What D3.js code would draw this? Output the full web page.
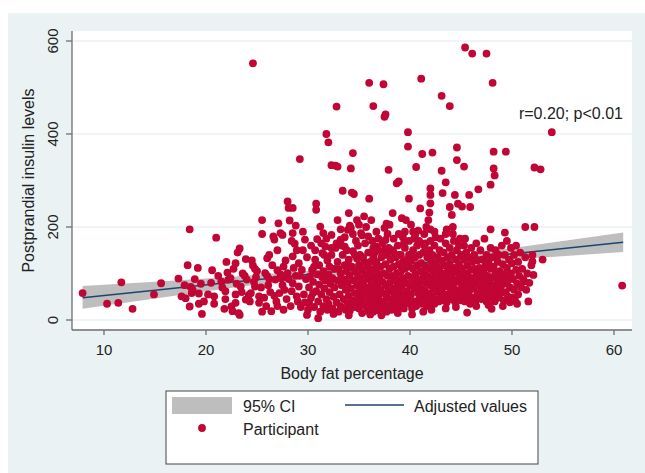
<!DOCTYPE html>
<html>
<head>
<meta charset="utf-8">
<script src="https://cdn.jsdelivr.net/npm/d3@7"></script>
<style>
  body { margin: 0; background: #fff; }
  svg { display: block; font-family: "Liberation Sans", Arial, sans-serif; }
</style>
</head>
<body>
<div id="chart"></div>
<script>
// Axis ticks
const xTicks = [10, 20, 30, 40, 50, 60];
const yTicks = [0, 200, 400, 600];

// Fitted line and 95% CI band
const fitFat = [7.9, 15, 22, 30, 38, 45, 52, 60.9];
const fitValue = [48, 64, 80, 98, 116, 131, 147, 167];
const ciLower = [24, 46, 68, 90, 109, 123, 133, 146];
const ciUpper = [73, 82, 92, 106, 123, 140, 161, 188];

// Participants [body fat %, insulin], estimated from the scatter
const under30 = [
  [7.9,58],[10.3,35],[11.4,37],[11.7,81],[12.8,24],[14.9,55],[15.6,79],[17.3,89],[17.6,51],[18.0,47],
  [18.2,118],[18.4,195],[18.4,29],[18.5,71],[18.6,58],[18.7,64],[19.2,112],[19.3,35],[19.5,78],[19.6,13],
  [19.3,57],[20.6,107],[20.8,51],[20.8,35],[21.0,177],[21.5,83],[21.8,24],[21.9,62],[22.0,125],[22.1,102],
  [22.2,87],[22.5,29],[22.6,19],[22.9,122],[22.9,37],[23.1,145],[23.3,154],[23.2,15],[23.3,11],[23.4,72],
  [23.6,100],[23.9,131],[23.9,44],[24.0,87],[24.2,54],[24.4,58],[24.6,117],[24.6,552],[24.8,72],[25.2,51],
  [25.2,37],[25.5,215],[25.5,185],[25.5,18],[25.8,101],[26.0,133],[26.1,75],[26.2,88],[26.4,19],[26.6,180],
  [26.7,173],[26.8,87],[27.0,107],[27.1,208],[27.2,58],[27.3,187],[27.5,183],[27.6,22],[27.6,115],[27.7,65],
  [28.0,101],[28.0,255],[28.1,241],[28.2,214],[28.5,241],[28.5,137],[28.5,79],[28.7,164],[28.8,203],[28.5,187],
  [28.9,51],[29.0,40],[29.1,122],[29.2,346],[29.5,190],[29.7,173],[29.9,11],
  [21.2,95],[22.4,90],[23.0,78],[23.8,95],[24.3,40],[24.9,92],[25.7,48],[26.3,60],[26.9,40],[27.4,90],
  [27.9,45],[28.3,30],[28.4,62],[28.8,95],[29.1,72],[29.3,28],[29.6,55],[29.8,88],[29.4,108],[28.9,150],
  [27.8,128],[26.5,118],[25.0,105],[24.5,128],[22.7,110],[21.6,70],[20.2,55],[19.8,40],[18.9,88],[17.9,75],
  [23.5,60],[25.9,30],[27.0,30],[28.6,112],[29.9,135],[27.3,98],[24.7,82],[26.0,95],
  [20.5,80],[21.9,45],[22.9,55],[24.8,110],[25.4,70],[26.7,52],[27.5,75],[28.1,88],[29.2,95],[29.7,38],
  [26.2,140],[27.0,150],[28.4,170],[29.5,150]
];

const from30to40 = [
  [30.1,38],[30.2,94],[30.5,58],[30.7,130],[30.8,250],[30.8,237],[30.9,174],[31.0,4],[31.2,201],[31.4,144],
  [31.5,187],[31.7,158],[31.8,400],[32.0,382],[32.1,115],[32.3,183],[32.3,333],[32.5,13],[32.7,332],[32.8,459],
  [32.9,330],[32.9,215],[33.2,173],[33.4,278],[33.6,158],[33.9,194],[34.1,203],[34.2,326],[34.3,274],[34.4,359],
  [34.5,271],[34.8,215],[35.2,187],[35.5,223],[36.0,261],[36.0,510],[36.4,460],[36.5,144],[36.7,158],[37.4,507],
  [37.5,437],[37.6,442],[37.5,198],[37.7,207],[37.9,323],[38.3,230],[38.7,294],[38.9,298],[39.2,219],[39.8,404],
  [39.8,373],[39.9,261],
  [30.0,22],[30.3,48],[30.1,70],[30.4,108],[30.6,28],[30.5,82],[30.8,62],[30.7,150],[30.9,98],[31.0,40],[31.1,118],[30.3,160],
  [31.2,18],[31.3,55],[31.1,76],[31.4,92],[31.5,30],[31.6,68],[31.5,105],[31.8,45],[31.7,85],[31.9,128],[31.9,22],[31.6,140],[31.3,165],
  [32.0,35],[32.1,60],[32.2,78],[32.0,98],[32.3,140],[32.4,25],[32.5,50],[32.4,90],[32.6,70],[32.6,110],[32.7,155],[32.8,38],[32.9,85],[32.9,125],[33.0,18],[32.8,165],
  [33.1,55],[33.2,100],[33.2,30],[33.3,75],[33.4,140],[33.5,45],[33.5,88],[33.6,118],[33.7,22],[33.7,65],[33.8,105],[33.9,35],[33.9,80],[33.8,150],[34.0,52],[34.0,130],[33.6,178],[33.3,160],
  [34.1,20],[34.1,95],[34.2,68],[34.3,42],[34.3,115],[34.4,148],[34.5,28],[34.5,85],[34.6,58],[34.6,105],[34.7,170],[34.7,38],[34.8,75],[34.8,132],[34.9,50],[34.9,95],[35.0,25],[35.0,118],[34.4,185],[34.9,160],[34.2,198],
  [35.1,65],[35.1,140],[35.2,40],[35.2,88],[35.3,108],[35.3,15],[35.4,55],[35.4,78],[35.5,125],[35.5,32],[35.6,98],[35.6,165],[35.7,48],[35.7,70],[35.8,115],[35.8,20],[35.9,88],[35.9,145],[36.0,60],[36.0,38],[35.3,182],[35.7,200],[35.0,205],
  [36.1,105],[36.1,125],[36.2,28],[36.2,75],[36.3,50],[36.3,92],[36.4,135],[36.4,18],[36.5,62],[36.5,110],[36.6,40],[36.6,85],[36.7,125],[36.8,30],[36.8,72],[36.8,100],[36.9,52],[36.9,150],[37.0,20],[37.0,90],[36.3,170],[36.7,190],[36.9,175],
  [37.1,65],[37.1,115],[37.2,40],[37.2,135],[37.3,82],[37.3,25],[37.4,58],[37.4,100],[37.5,150],[37.5,35],[37.6,75],[37.6,120],[37.7,50],[37.7,18],[37.8,95],[37.8,140],[37.9,62],[37.9,30],[38.0,110],[38.0,80],[37.3,165],[37.8,185],[37.6,172],
  [38.1,45],[38.1,130],[38.2,22],[38.2,95],[38.3,68],[38.3,150],[38.4,38],[38.4,115],[38.5,85],[38.5,55],[38.6,28],[38.6,135],[38.7,100],[38.7,70],[38.8,45],[38.8,160],[38.9,120],[38.9,85],[39.0,30],[39.0,58],[38.4,175],[38.9,185],
  [39.1,105],[39.1,140],[39.2,72],[39.2,42],[39.3,90],[39.3,125],[39.4,55],[39.4,25],[39.5,110],[39.5,155],[39.6,80],[39.6,38],[39.7,130],[39.7,62],[39.8,95],[39.8,48],[39.9,115],[39.9,170],[40.0,35],[40.0,75],[39.5,190],[39.3,178],
  [33.0,110],[33.9,120],[34.6,140],[35.4,135],[35.9,180],[36.4,155],[36.9,115],[37.4,140],[37.9,155],[38.4,145],
  [38.9,140],[39.4,165],[39.9,140],[34.0,10],[36.1,12],[37.2,10],[38.8,15],[30.6,115],[31.8,175],[32.3,155],
  [33.2,195],[34.0,230],[36.2,215],[38.0,205],[39.6,215]
];

const over40 = [
  [40.1,205],[40.5,183],[40.6,329],[41.1,519],[41.2,357],[42.2,360],[42.0,283],[42.0,269],[42.0,251],[41.9,231],
  [41.8,215],[42.0,195],[43.1,482],[43.1,321],[43.2,273],[43.5,296],[43.9,460],[43.9,243],[44.1,226],[44.2,200],
  [44.4,269],[44.6,371],[44.6,344],[44.7,250],[45.1,244],[45.3,330],[45.4,586],[45.8,269],[45.9,243],[46.1,573],
  [46.7,281],[47.5,573],[47.9,291],[48.1,510],[48.2,362],[48.2,326],[48.3,311],[49.4,362],[47.9,195],[49.3,188],
  [51.3,200],[52.2,200],[52.2,328],[52.8,324],[53.9,404],[53.0,130],[52.0,126],[52.1,97],[51.2,83],[60.8,74],
  [45.6,16],[48.0,24],
  [40.1,55],[40.1,128],[40.2,90],[40.2,25],[40.3,110],[40.3,150],[40.4,68],[40.4,40],[40.5,98],[40.5,135],[40.6,78],[40.6,30],[40.7,118],[40.7,160],[40.8,58],[40.8,88],[40.9,45],[40.9,140],[41.0,105],[41.0,70],[40.4,175],[40.8,192],
  [41.1,35],[41.1,122],[41.2,85],[41.2,55],[41.3,145],[41.3,100],[41.4,65],[41.4,42],[41.5,115],[41.5,165],[41.6,80],[41.6,30],[41.7,135],[41.7,95],[41.8,58],[41.8,45],[41.9,110],[41.9,150],[42.0,75],[42.0,38],[41.4,185],[41.6,200],
  [42.1,90],[42.1,125],[42.2,52],[42.2,140],[42.3,68],[42.3,105],[42.4,35],[42.4,160],[42.5,82],[42.5,118],[42.6,45],[42.6,98],[42.7,62],[42.7,135],[42.8,75],[42.8,40],[42.9,112],[42.9,150],[43.0,88],[43.0,55],[42.5,178],
  [43.1,128],[43.1,65],[43.2,42],[43.2,100],[43.3,145],[43.3,80],[43.4,55],[43.4,118],[43.5,92],[43.5,165],[43.6,38],[43.6,72],[43.7,135],[43.7,105],[43.8,50],[43.8,85],[43.9,120],[43.9,155],[44.0,62],[44.0,45],[43.5,185],
  [44.1,98],[44.1,140],[44.2,75],[44.2,52],[44.3,112],[44.3,170],[44.4,88],[44.4,40],[44.5,130],[44.5,65],[44.6,105],[44.6,150],[44.7,48],[44.7,82],[44.8,120],[44.8,60],[44.9,95],[44.9,175],[45.0,42],[45.0,140],
  [45.1,72],[45.1,110],[45.2,55],[45.2,88],[45.3,130],[45.3,160],[45.4,40],[45.4,100],[45.5,68],[45.5,145],[45.6,82],[45.6,118],[45.7,50],[45.7,95],[45.8,135],[45.8,62],[45.9,108],[45.9,35],[46.0,78],[46.0,155],
  [46.1,90],[46.1,125],[46.2,48],[46.2,68],[46.3,110],[46.3,140],[46.4,80],[46.4,40],[46.5,100],[46.5,165],[46.6,58],[46.6,128],[46.7,88],[46.8,50],[46.8,112],[46.9,72],[46.9,150],[47.0,95],[47.0,45],
  [47.1,130],[47.1,62],[47.2,85],[47.2,105],[47.3,52],[47.3,175],[47.4,118],[47.4,75],[47.5,40],[47.5,140],[47.6,95],[47.6,60],[47.7,125],[47.8,82],[47.8,48],[47.9,110],[47.9,155],[48.0,70],
  [48.1,92],[48.1,135],[48.2,55],[48.2,115],[48.3,75],[48.3,40],[48.4,150],[48.4,100],[48.5,62],[48.6,85],[48.6,125],[48.7,48],[48.7,140],[48.8,105],[48.9,72],[48.9,58],[49.0,160],[49.0,90],
  [49.1,120],[49.2,42],[49.2,78],[49.3,140],[49.3,98],[49.4,60],[49.5,112],[49.5,170],[49.6,50],[49.6,85],[49.7,130],[49.8,38],[49.8,70],[49.9,100],[49.9,155],[50.0,48],[50.0,122],
  [50.1,88],[50.2,65],[50.2,140],[50.3,42],[50.4,108],[50.4,160],[50.5,78],[50.6,55],[50.6,125],[50.7,95],[50.8,145],[50.9,70],[51.0,110],[51.1,88],[51.3,135],[51.4,65],[51.5,100],[51.7,80],[51.9,118],[52.0,140],[51.6,40],[50.5,35],
  [40.3,190],[40.9,170],[41.4,160],[42.0,170],[42.4,190],[43.0,175],[43.6,195],[44.2,185],[44.8,160],[45.4,175],
  [40.2,12],[41.3,18],[42.1,22],[43.5,25],[44.5,28],[46.5,30],[47.7,32],[49.1,30],[41.0,240]
];

const participants = under30.concat(from30to40, over40);

const width = 645;
const height = 473;
const plot = { left: 72, right: 632, top: 31, bottom: 330 };

const bgColor = "#eaf2f3";
const dotColor = "#c10534";
const lineColor = "#1a476f";
const bandColor = "#bebebe";
const axisColor = "#6e6e6e";

const x = d3.scaleLinear().domain([10, 60]).range([104, 614]);
const y = d3.scaleLinear().domain([0, 600]).range([320, 41]);

const svg = d3.create("svg")
  .attr("width", width)
  .attr("height", height);

// Outer graph region
svg.append("rect")
  .attr("x", 8).attr("y", 13)
  .attr("width", width - 8).attr("height", height - 13)
  .attr("fill", bgColor);

// Plot region
svg.append("rect")
  .attr("x", plot.left).attr("y", plot.top)
  .attr("width", plot.right - plot.left).attr("height", plot.bottom - plot.top)
  .attr("fill", "#fff");

// Grid lines
svg.append("g")
  .selectAll("line")
  .data(yTicks)
  .join("line")
    .attr("x1", plot.left).attr("x2", plot.right)
    .attr("y1", d => y(d)).attr("y2", d => y(d))
    .attr("stroke", bgColor)
    .attr("stroke-width", 1.5);

// CI band
const fit = fitFat.map((f, i) => ({ f, v: fitValue[i], lo: ciLower[i], hi: ciUpper[i] }));

svg.append("path")
  .datum(fit)
  .attr("fill", bandColor)
  .attr("d", d3.area()
    .x(d => x(d.f))
    .y0(d => y(d.lo))
    .y1(d => y(d.hi)));

// Fitted line
svg.append("path")
  .datum(fit)
  .attr("fill", "none")
  .attr("stroke", lineColor)
  .attr("stroke-width", 1.5)
  .attr("d", d3.line()
    .x(d => x(d.f))
    .y(d => y(d.v)));

// Participants
svg.append("g")
  .attr("fill", dotColor)
  .selectAll("circle")
  .data(participants)
  .join("circle")
    .attr("cx", d => x(d[0]))
    .attr("cy", d => y(d[1]))
    .attr("r", 3.9);

// Axes
const axes = svg.append("g")
  .attr("stroke", axisColor)
  .attr("stroke-width", 1.3);

axes.append("line")
  .attr("x1", plot.left).attr("x2", plot.left)
  .attr("y1", plot.top).attr("y2", plot.bottom);
axes.append("line")
  .attr("x1", plot.left).attr("x2", plot.right)
  .attr("y1", plot.bottom).attr("y2", plot.bottom);

axes.selectAll(".yt")
  .data(yTicks)
  .join("line")
    .attr("class", "yt")
    .attr("x1", plot.left - 6).attr("x2", plot.left)
    .attr("y1", d => y(d)).attr("y2", d => y(d));

axes.selectAll(".xt")
  .data(xTicks)
  .join("line")
    .attr("class", "xt")
    .attr("x1", d => x(d)).attr("x2", d => x(d))
    .attr("y1", plot.bottom).attr("y2", plot.bottom + 5);

// Tick labels
svg.append("g")
  .attr("font-size", 15)
  .attr("fill", "#222")
  .attr("text-anchor", "middle")
  .selectAll("text")
  .data(xTicks)
  .join("text")
    .attr("x", d => x(d))
    .attr("y", 349)
    .attr("dominant-baseline", "central")
    .text(d => d);

svg.append("g")
  .attr("font-size", 15)
  .attr("fill", "#222")
  .attr("text-anchor", "middle")
  .selectAll("text")
  .data(yTicks)
  .join("text")
    .attr("transform", d => `translate(52,${y(d)}) rotate(-90)`)
    .attr("dominant-baseline", "central")
    .text(d => d);

// Axis titles
svg.append("text")
  .attr("x", (plot.left + plot.right) / 2)
  .attr("y", 373)
  .attr("text-anchor", "middle")
  .attr("dominant-baseline", "central")
  .attr("font-size", 16)
  .attr("fill", "#222")
  .text("Body fat percentage");

svg.append("text")
  .attr("transform", `translate(28,${(plot.top + plot.bottom) / 2}) rotate(-90)`)
  .attr("text-anchor", "middle")
  .attr("dominant-baseline", "central")
  .attr("font-size", 16)
  .attr("fill", "#222")
  .text("Postprandial insulin levels");

// Annotation
svg.append("text")
  .attr("x", 623)
  .attr("y", 113)
  .attr("text-anchor", "end")
  .attr("dominant-baseline", "central")
  .attr("font-size", 16)
  .attr("fill", "#222")
  .text("r=0.20; p<0.01");

// Legend
const legend = svg.append("g");
legend.append("rect")
  .attr("x", 166).attr("y", 391)
  .attr("width", 372).attr("height", 73)
  .attr("fill", "#fff")
  .attr("stroke", "#444")
  .attr("stroke-width", 1);

legend.append("rect")
  .attr("x", 172).attr("y", 397)
  .attr("width", 60).attr("height", 17)
  .attr("fill", bandColor);

legend.append("line")
  .attr("x1", 345).attr("x2", 404)
  .attr("y1", 405).attr("y2", 405)
  .attr("stroke", lineColor)
  .attr("stroke-width", 1.5);

legend.append("circle")
  .attr("cx", 202).attr("cy", 428)
  .attr("r", 3.9)
  .attr("fill", dotColor);

const legendItems = [
  { label: "95% CI", lx: 243, ly: 406 },
  { label: "Adjusted values", lx: 414, ly: 406 },
  { label: "Participant", lx: 243, ly: 429 }
];

legend.selectAll("text")
  .data(legendItems)
  .join("text")
    .attr("x", d => d.lx)
    .attr("y", d => d.ly)
    .attr("dominant-baseline", "central")
    .attr("font-size", 16)
    .attr("fill", "#222")
    .text(d => d.label);

document.getElementById("chart").appendChild(svg.node());
</script>
</body>
</html>
